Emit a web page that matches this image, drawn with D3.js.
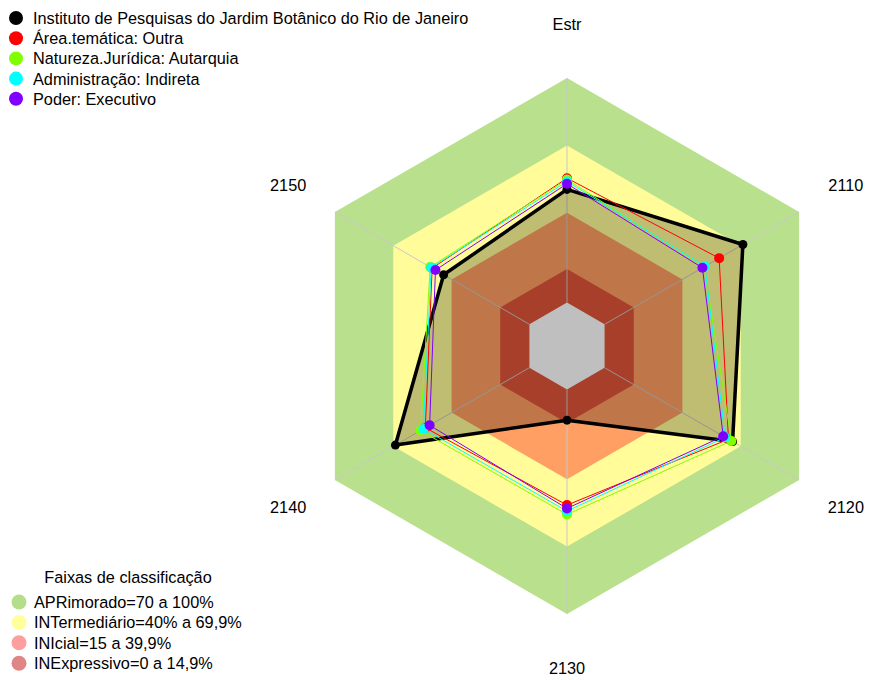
<!DOCTYPE html>
<html>
<head>
<meta charset="utf-8">
<script src="https://cdn.jsdelivr.net/npm/d3@7"></script>
<style>
  body { margin: 0; background: #fff; }
  text { font-family: "Liberation Sans", Arial, sans-serif; }
</style>
</head>
<body>
<svg id="chart"></svg>
<script>
// eixos do radar (sentido horário a partir do topo)
const axes = ["Estr", "2110", "2120", "2130", "2140", "2150"];

// valores (fração de 0 a 1)
const instituto = [0.504, 0.711, 0.658, 0.137, 0.689, 0.441];
const areaTematica = [0.554, 0.589, 0.637, 0.515, 0.535, 0.500];
const naturezaJuridica = [0.548, 0.512, 0.652, 0.557, 0.560, 0.510];
const administracao = [0.539, 0.516, 0.620, 0.542, 0.545, 0.505];
const poder = [0.529, 0.503, 0.610, 0.530, 0.513, 0.483];

const seriesNames = [
  "Instituto de Pesquisas do Jardim Botânico do Rio de Janeiro",
  "Área.temática: Outra",
  "Natureza.Jurídica: Autarquia",
  "Administração: Indireta",
  "Poder: Executivo"
];
const seriesColors = ["#000000", "#FF0000", "#80FF00", "#00FFFF", "#8000FF"];

// faixas de classificação
const bandLimits = [1, 0.7, 0.4, 0.15];
const bandColors = ["#B9E08D", "#FFFC99", "#FF9F63", "#E0553A"];
const bandLabels = [
  "APRimorado=70 a 100%",
  "INTermediário=40% a 69,9%",
  "INIcial=15 a 39,9%",
  "INExpressivo=0 a 14,9%"
];
const bandLegendColors = ["#B5DE8A", "#FFFF9C", "#FF9E9E", "#E08585"];

const width = 869;
const height = 680;
const cx = 567;
const cy = 346;
const outerR = 268;
const innerR = 43.4;
const fs = 16.3;

const svg = d3.select("#chart").attr("width", width).attr("height", height);

const rScale = d3.scaleLinear().domain([0, 1]).range([innerR, outerR]);
const angle = d3.scaleLinear().domain([0, axes.length]).range([0, 2 * Math.PI]);

const radial = (vals) =>
  d3.lineRadial()
    .angle((d, i) => angle(i))
    .radius((d) => rScale(d))
    .curve(d3.curveLinearClosed)(vals);

const px = (v, i) => rScale(v) * Math.sin(angle(i));
const py = (v, i) => -rScale(v) * Math.cos(angle(i));

const g = svg.append("g").attr("transform", `translate(${cx},${cy})`);

// fundos em hexágono
bandLimits.forEach((lim, k) => {
  g.append("path")
    .attr("d", radial(axes.map(() => lim)))
    .attr("fill", bandColors[k]);
});
g.append("path")
  .attr("d", radial(axes.map(() => 0)))
  .attr("fill", "#ffffff");

// raios
g.selectAll(".spoke")
  .data(axes)
  .join("line")
  .attr("class", "spoke")
  .attr("x1", (d, i) => px(0, i))
  .attr("y1", (d, i) => py(0, i))
  .attr("x2", (d, i) => px(1, i))
  .attr("y2", (d, i) => py(1, i))
  .attr("stroke", "#c8c8c8")
  .attr("stroke-width", 1);

// rótulos dos eixos
g.selectAll(".axlab")
  .data(axes)
  .join("text")
  .attr("class", "axlab")
  .attr("x", (d, i) => 322 * Math.sin(angle(i)))
  .attr("y", (d, i) => -322 * Math.cos(angle(i)))
  .attr("text-anchor", "middle")
  .attr("dominant-baseline", "central")
  .attr("font-size", fs)
  .text((d) => d);

// séries
const allSeries = [instituto, areaTematica, naturezaJuridica, administracao, poder];

// polígono do instituto (preenchido)
g.append("path")
  .attr("d", radial(instituto))
  .attr("fill", "rgba(0,0,0,0.25)")
  .attr("stroke", "#000")
  .attr("stroke-width", 3.5)
  .attr("stroke-linejoin", "round");
g.selectAll(".pt0")
  .data(instituto)
  .join("circle")
  .attr("class", "pt0")
  .attr("cx", (d, i) => px(d, i))
  .attr("cy", (d, i) => py(d, i))
  .attr("r", 4.5)
  .attr("fill", "#000");

allSeries.slice(1).forEach((vals, k) => {
  const col = seriesColors[k + 1];
  g.append("path")
    .attr("d", radial(vals))
    .attr("fill", "none")
    .attr("stroke", col)
    .attr("stroke-width", 1);
  g.selectAll(".pt" + (k + 1))
    .data(vals)
    .join("circle")
    .attr("class", "pt" + (k + 1))
    .attr("cx", (d, i) => px(d, i))
    .attr("cy", (d, i) => py(d, i))
    .attr("r", 5)
    .attr("fill", col);
});

// legenda das séries
const leg = svg.append("g");
seriesNames.forEach((name, i) => {
  const y = 18 + i * 20.2;
  leg.append("circle").attr("cx", 16).attr("cy", y).attr("r", 7).attr("fill", seriesColors[i]);
  leg.append("text")
    .attr("x", 33)
    .attr("y", y)
    .attr("dominant-baseline", "central")
    .attr("font-size", fs)
    .text(name);
});

// legenda das faixas
const leg2 = svg.append("g");
leg2.append("text")
  .attr("x", 128)
  .attr("y", 577)
  .attr("text-anchor", "middle")
  .attr("dominant-baseline", "central")
  .attr("font-size", fs)
  .text("Faixas de classificação");
bandLabels.forEach((lab, i) => {
  const y = 602 + i * 20.4;
  leg2.append("circle").attr("cx", 19).attr("cy", y).attr("r", 7.5).attr("fill", bandLegendColors[i]);
  leg2.append("text")
    .attr("x", 34)
    .attr("y", y)
    .attr("dominant-baseline", "central")
    .attr("font-size", fs)
    .text(lab);
});
</script>
</body>
</html>
